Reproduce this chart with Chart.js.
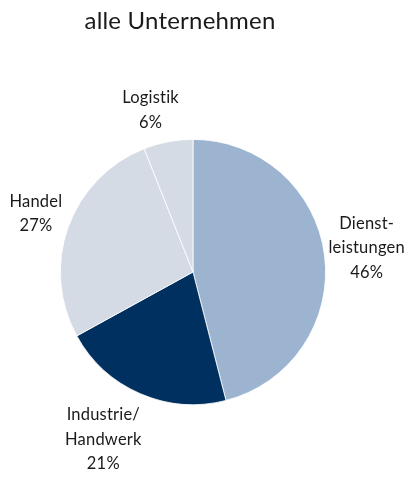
<!DOCTYPE html>
<html>
<head>
<meta charset="utf-8">
<script src="https://cdn.jsdelivr.net/npm/chart.js@4/dist/chart.umd.min.js"></script>
<style>
  html, body { margin: 0; padding: 0; background: #fff; }
  #wrap { width: 408px; height: 477px; position: relative; }
</style>
</head>
<body>
<div id="wrap"><canvas id="pieChart"></canvas></div>
<script>
// Data
const categories = ['Dienstleistungen', 'Industrie/Handwerk', 'Handel', 'Logistik'];
const shares = [46, 21, 27, 6];
const labelLines = [
  ['Dienst-', 'leistungen', '46%'],
  ['Industrie/', 'Handwerk', '21%'],
  ['Handel', '27%'],
  ['Logistik', '6%']
];
const chartTitle = 'alle Unternehmen';

const colors = ['#9cb4d0', '#00305f', '#d4dbe4', '#d4dbe4'];
const fontFamily = 'Lato, sans-serif';

// label placement: distance from pie centre along slice middle, plus a small nudge
const labelDist = [170, 188, 167, 168];
const labelNudge = [[5, -3], [-15, -5], [0, -2], [-11, 3]];

const outsideLabels = {
  id: 'outsideLabels',
  afterDraw(chart) {
    const ctx = chart.ctx;
    const meta = chart.getDatasetMeta(0);
    ctx.save();
    ctx.fillStyle = '#1a1a1a';
    ctx.textAlign = 'center';
    ctx.textBaseline = 'middle';
    ctx.letterSpacing = '0.2px'; // keeps Lato from joining "ti"

    // title
    ctx.font = '24px ' + fontFamily;
    ctx.fillText(chartTitle, 180, 21);

    ctx.font = '16.5px ' + fontFamily;
    const lineH = 24.5;
    meta.data.forEach((arc, i) => {
      const mid = (arc.startAngle + arc.endAngle) / 2;
      const cx = arc.x + Math.cos(mid) * labelDist[i] + labelNudge[i][0];
      const cy = arc.y + Math.sin(mid) * labelDist[i] + labelNudge[i][1];
      const lines = labelLines[i];
      const top = cy - (lines.length - 1) * lineH / 2;
      lines.forEach((t, j) => ctx.fillText(t, cx, top + j * lineH));
    });
    ctx.restore();
  }
};

const ctx = document.getElementById('pieChart').getContext('2d');
new Chart(ctx, {
  type: 'pie',
  data: {
    labels: categories,
    datasets: [{
      data: shares,
      backgroundColor: colors,
      borderColor: '#ffffff',
      borderWidth: 0.8
    }]
  },
  options: {
    responsive: true,
    maintainAspectRatio: false,
    animation: false,
    layout: { padding: { left: 60, right: 82, top: 139, bottom: 72 } },
    plugins: {
      legend: { display: false },
      tooltip: { enabled: false },
      title: { display: false }
    }
  },
  plugins: [outsideLabels]
});
</script>
</body>
</html>
